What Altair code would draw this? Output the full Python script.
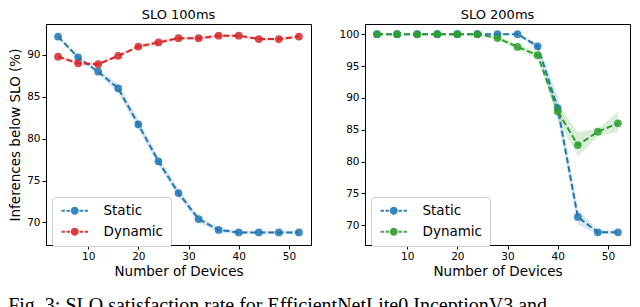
import altair as alt
import pandas as pd

devices = [4, 8, 12, 16, 20, 24, 28, 32, 36, 40, 44, 48, 52]

# SLO 100ms
s100_static = [92.2, 89.7, 88.0, 86.0, 81.7, 77.3, 73.5, 70.4, 69.1, 68.8, 68.8, 68.8, 68.8]
s100_static_lo = [92.0, 89.5, 87.8, 85.4, 81.1, 76.8, 73.0, 70.0, 68.8, 68.6, 68.6, 68.6, 68.6]
s100_static_hi = [92.4, 89.9, 88.2, 86.6, 82.3, 77.8, 74.0, 70.8, 69.4, 69.0, 69.0, 69.0, 69.0]
s100_dynamic = [89.8, 89.0, 88.9, 89.9, 91.0, 91.5, 92.0, 92.0, 92.3, 92.3, 91.9, 91.9, 92.2]
s100_dynamic_lo = [89.6, 88.8, 88.7, 89.7, 90.8, 91.2, 91.8, 91.8, 92.1, 92.1, 91.7, 91.7, 92.0]
s100_dynamic_hi = [90.0, 89.2, 89.1, 90.1, 91.2, 91.8, 92.2, 92.2, 92.5, 92.5, 92.1, 92.1, 92.4]

# SLO 200ms
s200_static = [100.0, 100.0, 100.0, 100.0, 100.0, 100.0, 100.0, 100.0, 98.1, 88.4, 71.3, 68.9, 68.9]
s200_static_lo = [100.0, 100.0, 100.0, 100.0, 100.0, 100.0, 99.9, 99.9, 97.6, 86.6, 70.1, 68.6, 68.6]
s200_static_hi = [100.0, 100.0, 100.0, 100.0, 100.0, 100.0, 100.1, 100.1, 98.6, 90.2, 72.5, 69.2, 69.2]
s200_dynamic = [100.0, 100.0, 100.0, 100.0, 100.0, 100.0, 99.4, 98.0, 96.7, 87.9, 82.6, 84.7, 86.0]
s200_dynamic_lo = [100.0, 100.0, 100.0, 100.0, 100.0, 100.0, 99.1, 97.6, 96.2, 86.7, 80.8, 84.0, 84.6]
s200_dynamic_hi = [100.0, 100.0, 100.0, 100.0, 100.0, 100.0, 99.7, 98.4, 97.2, 89.1, 84.6, 85.2, 87.8]

titles = ["SLO 100ms", "SLO 200ms"]
policies = ["Static", "Dynamic"]
left_ticks = [70, 75, 80, 85, 90]
right_ticks = [70, 75, 80, 85, 90, 95, 100]
x_ticks = [10, 20, 30, 40, 50]

BLUE = "#1f77b4"
RED = "#d62728"
GREEN = "#2ca02c"
FONT = "DejaVu Sans"

LEGEND_PATH = (
    "M-3.3,-0.22H-2.45V0.22H-3.3Z"
    "M-2.05,-0.22H-1.2V0.22H-2.05Z"
    "M1.2,-0.22H2.05V0.22H1.2Z"
    "M2.45,-0.22H3.3V0.22H2.45Z"
    "M-1,0A1,1 0 1,1 1,0A1,1 0 1,1 -1,0Z"
)


def make_df(static, slo, shi, dyn, dlo, dhi):
    rows = []
    for pol, vals, lo, hi in [("Static", static, slo, shi), ("Dynamic", dyn, dlo, dhi)]:
        for d, v, l, h in zip(devices, vals, lo, hi):
            rows.append({"devices": d, "value": v, "lo": l, "hi": h, "Policy": pol})
    return pd.DataFrame(rows)


def panel(title, df, ydomain, yticks, dyn_color, ytitle):
    cscale = alt.Scale(domain=policies, range=[BLUE, dyn_color])
    legend = alt.Legend(
        title=None,
        orient="none",
        legendX=6,
        legendY=173,
        symbolType=LEGEND_PATH,
        symbolSize=64,
        symbolOffset=9,
        labelOffset=22,
        labelFontSize=13.5,
        labelFont=FONT,
        labelColor="black",
        padding=7,
        rowPadding=6,
        strokeColor="#cccccc",
        fillColor="white",
        cornerRadius=3,
        symbolOpacity=0.9,
        symbolStrokeWidth=0,
    )
    color = alt.Color("Policy:N", scale=cscale, legend=legend)
    xenc = alt.X(
        "devices:Q",
        scale=alt.Scale(domain=[1.6, 54.4], nice=False, zero=False),
        axis=alt.Axis(values=x_ticks, title="Number of Devices", grid=False),
    )
    if ytitle:
        yaxis = alt.Axis(values=yticks, grid=False, title=ytitle)
    else:
        yaxis = alt.Axis(values=yticks, grid=False, title=None)
    yscale = alt.Scale(domain=ydomain, nice=False, zero=False)
    yenc = alt.Y("value:Q", scale=yscale, axis=yaxis)
    base = alt.Chart(df)
    layers = []
    for pol in policies:
        sub = base.transform_filter(alt.datum.Policy == pol)
        layers.append(
            sub.mark_area(opacity=0.18).encode(
                x=xenc,
                y=alt.Y("lo:Q", scale=yscale, axis=yaxis),
                y2="hi:Q",
                color=color,
            )
        )
    for pol in policies:
        sub = base.transform_filter(alt.datum.Policy == pol)
        layers.append(
            sub.mark_line(strokeDash=[6, 3], strokeWidth=2).encode(x=xenc, y=yenc, color=color)
        )
        layers.append(
            sub.mark_point(filled=True, size=60, opacity=0.85, shape="circle").encode(
                x=xenc, y=yenc, color=color
            )
        )
    return alt.layer(*layers).properties(
        width=265,
        height=221,
        title=alt.TitleParams(title, fontSize=13, fontWeight="normal", font=FONT, color="black", offset=2),
    )


df100 = make_df(s100_static, s100_static_lo, s100_static_hi, s100_dynamic, s100_dynamic_lo, s100_dynamic_hi)
df200 = make_df(s200_static, s200_static_lo, s200_static_hi, s200_dynamic, s200_dynamic_lo, s200_dynamic_hi)

left = panel(titles[0], df100, [67.3, 93.7], left_ticks, RED, "Inferences below SLO (%)")
right = panel(titles[1], df200, [66.9, 101.6], right_ticks, GREEN, None)

chart = (
    alt.hconcat(left, right, spacing=26)
    .resolve_scale(color="independent")
    .properties(
        padding={"left": 0, "top": 0, "right": 0, "bottom": 0},
        title=alt.TitleParams(
            "Fig. 3: SLO satisfaction rate for EfficientNetLite0 InceptionV3 and",
            orient="bottom",
            anchor="start",
            font="Liberation Serif",
            fontSize=20,
            fontWeight="normal",
            color="black",
            offset=17,
        ),
    )
    .configure_view(stroke="black", strokeWidth=1)
    .configure_axis(
        labelFont=FONT,
        titleFont=FONT,
        labelFontSize=10.5,
        titleFontSize=13.5,
        titleFontWeight="normal",
        labelColor="black",
        titleColor="black",
        tickColor="black",
        domainColor="black",
        tickSize=4,
        labelPadding=2,
        titlePadding=3,
    )
    .configure_axisY(titlePadding=4)
)

chart.save("out.html", embed_options={"renderer": "svg", "actions": False})
